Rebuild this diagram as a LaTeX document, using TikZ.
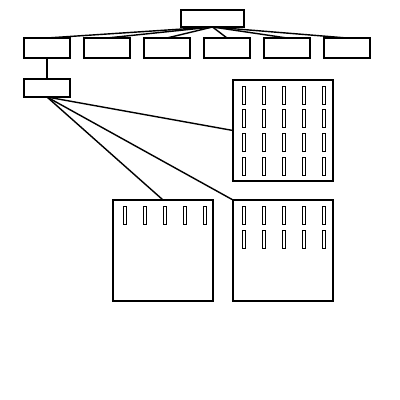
\documentclass[tikz,border=0pt]{standalone}
\usepackage{tikz}
\usetikzlibrary{positioning}
\tikzset{
  topbox/.style={rectangle, draw=black, fill=white, minimum width=1.575cm,
    minimum height=0.425cm, inner sep=0pt, outer sep=0pt, line width=1.4pt},
  kidbox/.style={rectangle, draw=black, fill=white, minimum width=1.15cm,
    minimum height=0.5cm, inner sep=0pt, outer sep=0pt, line width=1.4pt},
  subbox/.style={rectangle, draw=black, fill=white, minimum width=1.15cm,
    minimum height=0.45cm, inner sep=0pt, outer sep=0pt, line width=1.4pt},
  rackbox/.style={rectangle, draw=black, fill=white, minimum width=2.5cm,
    minimum height=2.525cm, inner sep=0pt, outer sep=0pt, line width=1.4pt},
  slotbox/.style={rectangle, draw=black, fill=white, minimum width=0.09cm,
    minimum height=0.45cm, inner sep=0pt, outer sep=0pt, line width=0.6pt},
  link/.style={line width=1pt, color=black}
}
\begin{document}
\begin{tikzpicture}[x=0.025cm, y=-0.025cm]
  \useasboundingbox (0,0) rectangle (400,400);

  % Root and children
  \node[topbox] (root) at (212.5, 18.5) {};
  \foreach \i/\x in {1/47, 2/107, 3/167, 4/227, 5/287, 6/347} {
    \node[kidbox] (kid\i) at (\x, 48) {};
    \draw[link] (root.south) -- (kid\i.north);
  }

  % Sub node
  \node[subbox] (sub) at (47, 88) {};
  \draw[link] (kid1.south) -- (sub.north);

  % Racks
  \node[rackbox] (rackA) at (283, 130.5) {};
  \node[rackbox] (rackB) at (163, 250.5) {};
  \node[rackbox] (rackC) at (283, 250.5) {};
  \draw[link] (sub.south) -- (rackA.west);
  \draw[link] (sub.south) -- (rackC.north west);
  \draw[link] (sub.south) -- (rackB.north);

  % Slots
  \foreach \i in {0,...,4} {
    \foreach \j/\y in {0/95, 1/118.5, 2/142.5, 3/166} {
      \node[slotbox] (slotA\i\j) at (244+20*\i, \y) {};
    }
    \node[slotbox] (slotB\i) at (125+20*\i, 215.5) {};
    \node[slotbox] (slotCa\i) at (244+20*\i, 215.5) {};
    \node[slotbox] (slotCb\i) at (244+20*\i, 239) {};
  }
\end{tikzpicture}
\end{document}
